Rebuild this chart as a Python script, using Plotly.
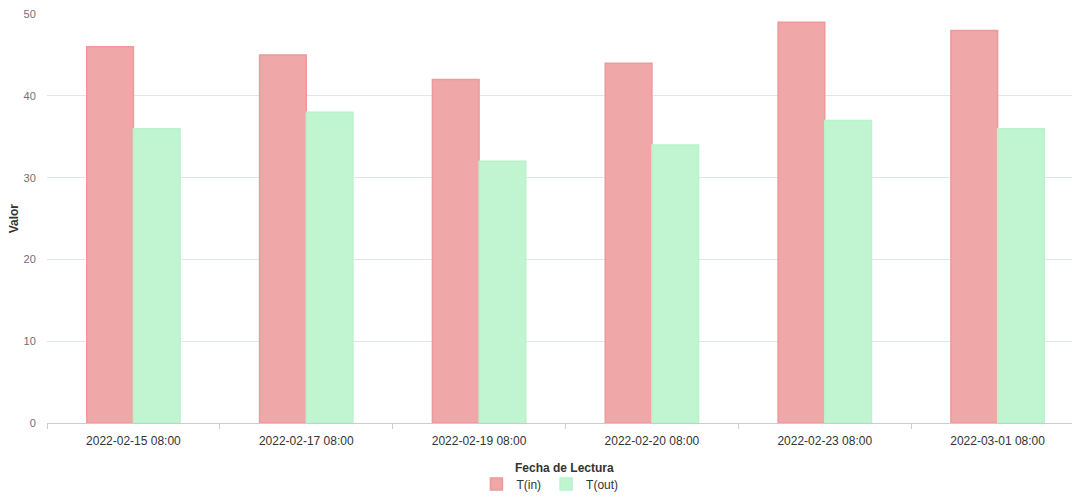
import plotly.graph_objects as go

fechas = ["2022-02-15 08:00", "2022-02-17 08:00", "2022-02-19 08:00",
          "2022-02-20 08:00", "2022-02-23 08:00", "2022-03-01 08:00"]
t_in = [46, 45, 42, 44, 49, 48]
t_out = [36, 38, 32, 34, 37, 36]

FONT = "Liberation Sans, Arial, sans-serif"

fig = go.Figure()
fig.add_trace(go.Bar(
    x=fechas, y=t_in, name="T(in)",
    marker=dict(color="#EFA7A7", line=dict(color="#EC9A9A", width=1.5)),
))
fig.add_trace(go.Bar(
    x=fechas, y=t_out, name="T(out)",
    marker=dict(color="#C1F5D1", line=dict(color="#B9F2CB", width=1.5)),
))

# the page body adds an 8px offset, so margins are trimmed to compensate
fig.update_layout(
    width=1080, height=500,
    margin=dict(l=39, r=4, t=6, b=85),
    paper_bgcolor="white", plot_bgcolor="white",
    font=dict(family=FONT, size=12, color="#333"),
    barmode="group", bargap=0.46, bargroupgap=0,
    showlegend=True,
    legend=dict(orientation="h", x=0.485, xanchor="center", y=-0.149, yanchor="middle",
                font=dict(size=12, color="#333"), itemwidth=30, tracegroupgap=0),
    xaxis=dict(
        type="category", range=[-0.5, 5.5], automargin=False,
        showline=True, linecolor="#CCCCCC", linewidth=1,
        ticks="outside", tickson="boundaries", ticklen=5, tickcolor="#CCCCCC",
        ticklabelstandoff=7,
        tickfont=dict(size=12, color="#333"), showgrid=False,
    ),
    yaxis=dict(
        range=[0, 50.02], tickvals=[0, 10, 20, 30, 40, 50], automargin=False,
        showgrid=True, gridcolor="#E0E6F1", zeroline=False,
        showline=False, tickfont=dict(size=11, color="#6E7079"),
        ticks="outside", ticklen=8, tickcolor="rgba(0,0,0,0)",
    ),
    annotations=[
        dict(text="<b>Fecha de Lectura</b>", xref="paper", yref="paper",
             x=0.4995, y=-0.11, xanchor="center", yanchor="middle",
             showarrow=False, font=dict(size=12, color="#333")),
        dict(text="<b>Valor</b>", xref="paper", yref="paper",
             x=-0.032, y=0.5, xanchor="center", yanchor="middle", textangle=-90,
             showarrow=False, font=dict(size=12, color="#333")),
    ],
)

fig.write_html("out.html")
